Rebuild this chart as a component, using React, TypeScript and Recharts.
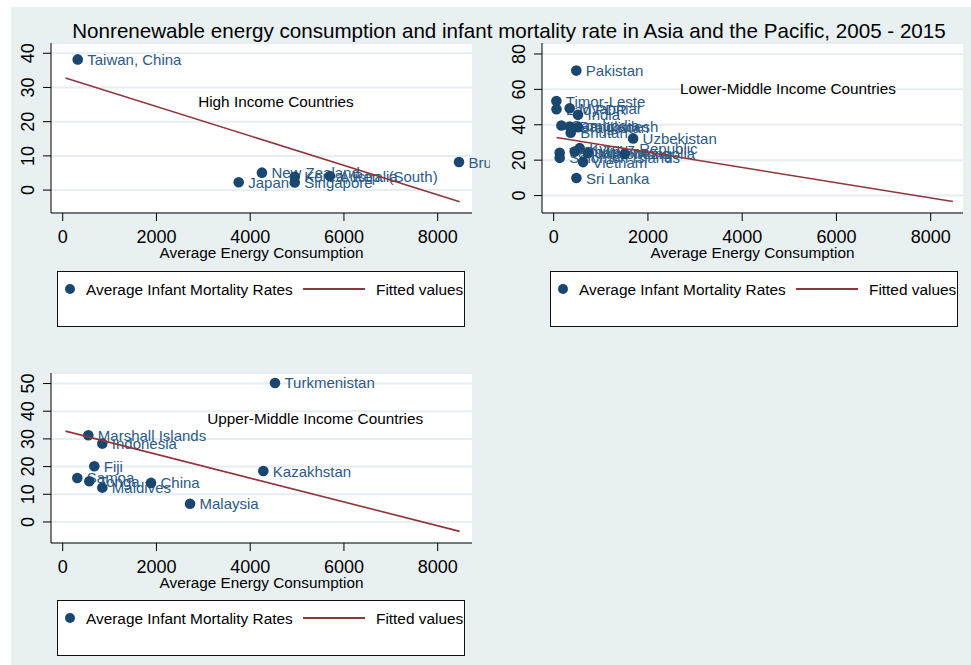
import { ScatterChart, Scatter, XAxis, YAxis, CartesianGrid, ReferenceDot } from 'recharts'

const FONT = '"Liberation Sans", Arial, sans-serif'
const NAVY = '#1a476f'
const LABEL = '#2c5a85'
const MAROON = '#90353b'
const BG = '#e8f0f2'
const GRID = '#e6eef1'

// High income countries
const highNames = ['Taiwan, China', 'New Zealand', 'Japan', 'Singapore', 'Korea, Rep. (South)', 'Australia', 'Brunei Darussalam']
const highEnergy = [320, 4250, 3755, 4950, 4950, 5700, 8455]
const highMortality = [38.2, 5.1, 2.3, 2.2, 3.9, 4.1, 8.2]

// Lower-middle income countries
const lowerNames = [
  'Pakistan', 'Timor-Leste', 'Lao PDR', 'Myanmar', 'India', 'Cambodia', 'Bangladesh', 'Tajikistan',
  'Bhutan', 'Uzbekistan', 'Kyrgyz Republic', 'Vanuatu', 'Solomon Islands', 'Philippines',
  'Micronesia', 'Mongolia', 'Vietnam', 'Sri Lanka',
]
const lowerEnergy = [480, 57, 60, 340, 516, 164, 340, 516, 361, 1685, 552, 127, 127, 446, 729, 1508, 623, 482]
const lowerMortality = [70.6, 53.4, 48.8, 49.3, 45.6, 39.6, 39.0, 38.6, 35.5, 32.3, 26.8, 24.2, 21.3, 24.9, 24.0, 23.5, 18.9, 9.9]

// Upper-middle income countries
const upperNames = ['Turkmenistan', 'Marshall Islands', 'Indonesia', 'Fiji', 'Kazakhstan', 'Samoa', 'Tonga', 'Maldives', 'China', 'Malaysia']
const upperEnergy = [4529, 546, 845, 674, 4280, 311, 567, 845, 1884, 2716]
const upperMortality = [50.2, 31.3, 28.3, 20.1, 18.4, 15.9, 14.7, 12.4, 14.1, 6.6]

// fitted values (pooled), read at the two ends of the line
const fitEnergy = [60, 8470]
const fitMortality = [32.8, -3.4]

const xTicks = [0, 2000, 4000, 6000, 8000]
const highTicks = [0, 10, 20, 30, 40]
const lowerTicks = [0, 20, 40, 60, 80]
const upperTicks = [0, 10, 20, 30, 40, 50]

const toRows = (names: string[], xs: number[], ys: number[]) =>
  names.map((name, i) => ({ name, x: xs[i], y: ys[i] }))

const fitRows = toRows(['a', 'b'], fitEnergy, fitMortality)

const XTick = ({ x, y, payload }: any) => (
  <text x={x} y={y + 14} textAnchor="middle" dominantBaseline="central" fontSize={18} fontFamily={FONT} fill="#000">
    {payload.value}
  </text>
)

const YTick = ({ x, y, payload }: any) => (
  <text
    x={x - 13}
    y={y}
    transform={`rotate(-90, ${x - 13}, ${y})`}
    textAnchor="middle"
    dominantBaseline="central"
    fontSize={18}
    fontFamily={FONT}
    fill="#000"
  >
    {payload.value}
  </text>
)

const Dot = (p: any) => (
  <g>
    <circle cx={p.cx} cy={p.cy} r={5.3} fill={NAVY} />
    <text x={p.cx + 9.5} y={p.cy} dominantBaseline="central" fontSize={15} fontFamily={FONT} fill={LABEL}>
      {p.payload.name}
    </text>
  </g>
)

interface PanelProps {
  left: number
  top: number
  width: number
  plotLeft: number
  plotRight: number
  rows: { name: string; x: number; y: number }[]
  yTicks: number[]
  xDomain: [number, number]
  yDomain: [number, number]
  title: string
  titleAt: [number, number]
}

function Panel({ left, top, width, plotLeft, plotRight, rows, yTicks, xDomain, yDomain, title, titleAt }: PanelProps) {
  return (
    <div style={{ position: 'absolute', left, top }}>
      <ScatterChart width={width} height={240} margin={{ top: 13, right: width - plotRight, bottom: 0, left: 0 }}>
        <CartesianGrid vertical={false} stroke={GRID} strokeWidth={2} fill="#ffffff" />
        <XAxis
          type="number"
          dataKey="x"
          domain={xDomain}
          ticks={xTicks}
          height={57}
          tickSize={8}
          tick={<XTick />}
          axisLine={{ stroke: '#000' }}
          tickLine={{ stroke: '#000' }}
          label={{
            content: ({ viewBox }: any) => (
              <text
                x={viewBox.x + viewBox.width / 2}
                y={viewBox.y + 39}
                textAnchor="middle"
                dominantBaseline="central"
                fontSize={15.3}
                fontFamily={FONT}
                fill="#000"
              >
                Average Energy Consumption
              </text>
            ),
          }}
        />
        <YAxis
          type="number"
          dataKey="y"
          domain={yDomain}
          ticks={yTicks}
          width={plotLeft}
          tickSize={8}
          tick={<YTick />}
          axisLine={{ stroke: '#000' }}
          tickLine={{ stroke: '#000' }}
        />
        <Scatter data={rows} shape={<Dot />} isAnimationActive={false} />
        <Scatter
          data={fitRows}
          line={{ stroke: MAROON, strokeWidth: 1.6 }}
          shape={() => <g />}
          legendType="none"
          isAnimationActive={false}
        />
        <ReferenceDot
          x={titleAt[0]}
          y={titleAt[1]}
          r={0}
          shape={(p: any) => (
            <text x={p.cx} y={p.cy} textAnchor="middle" dominantBaseline="central" fontSize={15.3} fontFamily={FONT} fill="#000">
              {title}
            </text>
          )}
        />
      </ScatterChart>
    </div>
  )
}

function LegendBox({ left, top }: { left: number; top: number }) {
  return (
    <svg style={{ position: 'absolute', left, top }} width={410} height={57}>
      <rect x={0.5} y={0.5} width={407} height={55} fill="#fff" stroke="#111" strokeWidth={1} />
      <circle cx={13} cy={18} r={5} fill={NAVY} />
      <text x={29} y={18} dominantBaseline="central" fontSize={15.4} fontFamily={FONT} fill="#000">
        Average Infant Mortality Rates
      </text>
      <line x1={246} x2={308} y1={18} y2={18} stroke={MAROON} strokeWidth={2} />
      <text x={319} y={18} dominantBaseline="central" fontSize={15.4} fontFamily={FONT} fill="#000">
        Fitted values
      </text>
    </svg>
  )
}

export default function App() {
  return (
    <div style={{ position: 'absolute', left: 0, top: 0, width: 971, height: 665, background: '#fff', overflow: 'hidden' }}>
      <div style={{ position: 'absolute', left: 11, top: 7, width: 960, height: 658, background: BG }} />
      <svg style={{ position: 'absolute', left: 0, top: 0 }} width={971} height={50}>
        <text x={509} y={30} textAnchor="middle" dominantBaseline="central" fontSize={20.6} fontFamily={FONT} fill="#000">
          Nonrenewable energy consumption and infant mortality rate in Asia and the Pacific, 2005 - 2015
        </text>
      </svg>
      <Panel
        left={0}
        top={30}
        width={490}
        plotLeft={51}
        plotRight={472}
        rows={toRows(highNames, highEnergy, highMortality)}
        yTicks={highTicks}
        xDomain={[-250, 8732]}
        yDomain={[-6.7, 43]}
        title="High Income Countries"
        titleAt={[4550, 26]}
      />
      <Panel
        left={490}
        top={30}
        width={481}
        plotLeft={52}
        plotRight={473}
        rows={toRows(lowerNames, lowerEnergy, lowerMortality)}
        yTicks={lowerTicks}
        xDomain={[-248, 8686]}
        yDomain={[-9.85, 86.2]}
        title="Lower-Middle Income Countries"
        titleAt={[4970, 60.6]}
      />
      <Panel
        left={0}
        top={360}
        width={490}
        plotLeft={51}
        plotRight={472}
        rows={toRows(upperNames, upperEnergy, upperMortality)}
        yTicks={upperTicks}
        xDomain={[-250, 8732]}
        yDomain={[-7.6, 53.8]}
        title="Upper-Middle Income Countries"
        titleAt={[5385, 37.3]}
      />
      <LegendBox left={57} top={271} />
      <LegendBox left={550} top={271} />
      <LegendBox left={57} top={600} />
    </div>
  )
}
